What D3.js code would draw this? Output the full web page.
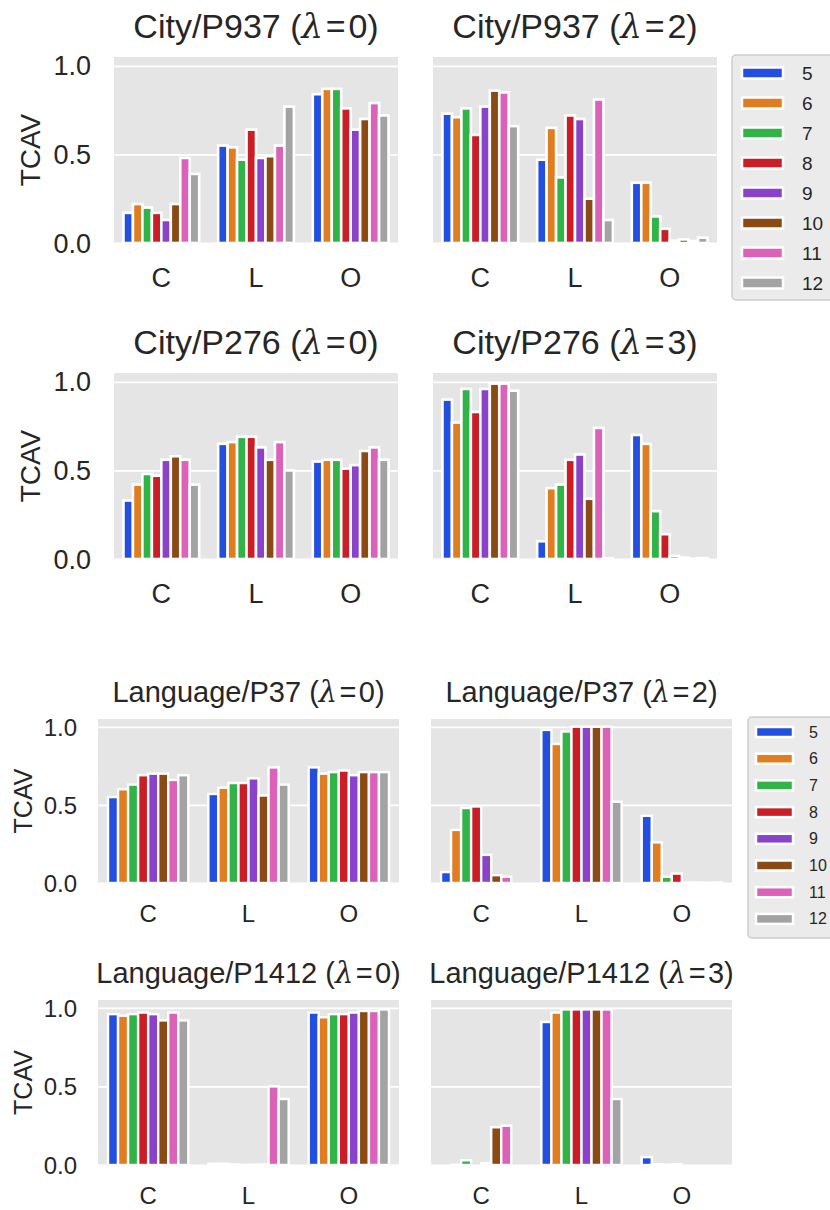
<!DOCTYPE html>
<html>
<head>
<meta charset="utf-8">
<script src="https://cdn.jsdelivr.net/npm/d3@7"></script>
<style>
  body { margin: 0; background: #ffffff; }
  svg text { font-family: "Liberation Sans", Arial, sans-serif; fill: #262626; }
</style>
</head>
<body>
<svg id="chart" width="830" height="1210"></svg>
<script>
/*
 * Data
 */

var CATEGORIES = ["C", "L", "O"];
var LAYERS = ["5", "6", "7", "8", "9", "10", "11", "12"];
var Y_TICKS = [0.0, 0.5, 1.0];

// TCAV per category (rows: C, L, O), per layer (5 .. 12)
var CITY_P937_L0 = [
  [0.17, 0.22, 0.20, 0.17, 0.13, 0.22, 0.48, 0.39],
  [0.55, 0.54, 0.47, 0.64, 0.48, 0.49, 0.55, 0.77],
  [0.84, 0.87, 0.87, 0.76, 0.64, 0.70, 0.79, 0.72]
];
var CITY_P937_L2 = [
  [0.73, 0.71, 0.76, 0.61, 0.77, 0.86, 0.85, 0.66],
  [0.47, 0.65, 0.37, 0.72, 0.70, 0.25, 0.81, 0.13],
  [0.34, 0.34, 0.15, 0.08, 0.013, 0.02, 0.011, 0.03]
];
var CITY_P276_L0 = [
  [0.33, 0.42, 0.48, 0.47, 0.56, 0.58, 0.56, 0.42],
  [0.65, 0.66, 0.69, 0.69, 0.63, 0.56, 0.66, 0.50],
  [0.55, 0.56, 0.56, 0.51, 0.53, 0.61, 0.63, 0.56]
];
var CITY_P276_L3 = [
  [0.90, 0.77, 0.96, 0.83, 0.96, 0.99, 0.99, 0.95],
  [0.10, 0.40, 0.42, 0.56, 0.59, 0.34, 0.74, 0.004],
  [0.70, 0.65, 0.27, 0.14, 0.017, 0.008, 0.002, 0.005]
];
var LANGUAGE_P37_L0 = [
  [0.55, 0.60, 0.63, 0.69, 0.70, 0.70, 0.66, 0.69],
  [0.57, 0.61, 0.64, 0.64, 0.67, 0.56, 0.74, 0.63],
  [0.74, 0.70, 0.71, 0.72, 0.69, 0.71, 0.71, 0.71]
];
var LANGUAGE_P37_L2 = [
  [0.07, 0.34, 0.48, 0.49, 0.18, 0.05, 0.04, 0.0],
  [0.98, 0.89, 0.97, 1.00, 1.00, 1.00, 1.00, 0.52],
  [0.43, 0.26, 0.04, 0.06, 0.003, 0.003, 0.002, 0.003]
];
var LANGUAGE_P1412_L0 = [
  [0.96, 0.95, 0.96, 0.97, 0.96, 0.92, 0.97, 0.92],
  [0.008, 0.008, 0.004, 0.001, 0.002, 0.003, 0.50, 0.42],
  [0.97, 0.94, 0.96, 0.96, 0.97, 0.98, 0.98, 0.99]
];
var LANGUAGE_P1412_L3 = [
  [0.0, 0.002, 0.03, 0.0, 0.011, 0.24, 0.25, 0.0],
  [0.91, 0.97, 0.99, 0.99, 0.99, 0.99, 0.99, 0.42],
  [0.05, 0.005, 0.002, 0.005, 0.0, 0.0, 0.0, 0.0]
];

/*
 * Styles and layout
 */

// seaborn "bright", desaturated as barplot does
var COLORS = ["#224fdf", "#df7d20", "#30b347", "#cb1d25",
              "#8a42cb", "#8b4a14", "#dc61b9", "#a3a3a3"];
var PANEL_BG = "#e5e5e5";
var Y_MAX = 1.05;

var TOP_STYLE = { title: 34, tick: 27, label: 28, pad: 23, xlab: 44, tgap: 19, ylabx: 30, stroke: 2.6 };
var BOT_STYLE = { title: 29, tick: 24, label: 25, pad: 21, xlab: 39, tgap: 17, ylabx: 23, stroke: 2.4 };

var PANELS = [
  { name: "City/P937", lam: "0", data: CITY_P937_L0, x: 114, y: 57, w: 284, h: 186, yaxis: true, st: TOP_STYLE },
  { name: "City/P937", lam: "2", data: CITY_P937_L2, x: 433, y: 57, w: 284, h: 186, yaxis: false, st: TOP_STYLE },
  { name: "City/P276", lam: "0", data: CITY_P276_L0, x: 114, y: 373, w: 284, h: 186, yaxis: true, st: TOP_STYLE },
  { name: "City/P276", lam: "3", data: CITY_P276_L3, x: 433, y: 373, w: 284, h: 186, yaxis: false, st: TOP_STYLE },
  { name: "Language/P37", lam: "0", data: LANGUAGE_P37_L0, x: 98, y: 719, w: 301, h: 164, yaxis: true, st: BOT_STYLE },
  { name: "Language/P37", lam: "2", data: LANGUAGE_P37_L2, x: 431, y: 719, w: 301, h: 164, yaxis: false, st: BOT_STYLE },
  { name: "Language/P1412", lam: "0", data: LANGUAGE_P1412_L0, x: 98, y: 1000, w: 301, h: 165, yaxis: true, st: BOT_STYLE },
  { name: "Language/P1412", lam: "3", data: LANGUAGE_P1412_L3, x: 431, y: 1000, w: 301, h: 165, yaxis: false, st: BOT_STYLE }
];

var LEGENDS = [
  { x: 732, y: 55, h: 245, first: 73, step: 30, swx: 742, sww: 41, swh: 11, tx: 802, fs: 19 },
  { x: 748, y: 717, h: 221, first: 732, step: 26.7, swx: 756, sww: 37, swh: 10, tx: 809, fs: 16 }
];

var SVG = d3.select("#chart");

/*
 * Drawing
 */

function draw_panel(p) {
  var st = p.st;
  var g = SVG.append("g").attr("class", "panel");

  var x = d3.scaleBand()
    .domain(CATEGORIES)
    .range([p.x, p.x + p.w])
    .paddingInner(0.2)
    .paddingOuter(0.1);
  var xi = d3.scaleBand()
    .domain(LAYERS)
    .range([0, x.bandwidth()]);
  var y = d3.scaleLinear()
    .domain([0, Y_MAX])
    .range([p.y + p.h, p.y]);

  // background
  g.append("rect")
    .attr("x", p.x).attr("y", p.y)
    .attr("width", p.w).attr("height", p.h)
    .attr("fill", PANEL_BG);

  // grid
  g.append("g")
    .attr("transform", "translate(" + p.x + ",0)")
    .call(d3.axisLeft(y).tickValues(Y_TICKS).tickSize(-p.w).tickFormat(""))
    .call(function (s) {
      s.select(".domain").remove();
      s.selectAll("line").attr("stroke", "#ffffff").attr("stroke-width", 1.8);
    });

  // bars
  var rows = [];
  p.data.forEach(function (vals, ci) {
    vals.forEach(function (v, li) {
      rows.push({ cat: CATEGORIES[ci], layer: LAYERS[li], li: li, v: v });
    });
  });
  g.append("g").selectAll("rect")
    .data(rows)
    .enter().append("rect")
      .attr("x", function (d) { return x(d.cat) + xi(d.layer); })
      .attr("y", function (d) { return y(d.v); })
      .attr("width", xi.bandwidth())
      .attr("height", function (d) { return y(0) - y(d.v); })
      .attr("fill", function (d) { return COLORS[d.li]; })
      .attr("stroke", "#ffffff")
      .attr("stroke-width", st.stroke);

  // x axis
  g.append("g")
    .attr("transform", "translate(0," + (p.y + p.h) + ")")
    .call(d3.axisBottom(x).tickSize(0).tickPadding(0))
    .call(function (s) {
      s.select(".domain").remove();
      s.selectAll("text")
        .attr("y", st.xlab)
        .attr("dy", null)
        .style("font-size", st.tick + "px")
        .style("font-family", null)
        .attr("fill", "#262626");
    });

  // y axis
  if (p.yaxis) {
    g.append("g")
      .attr("transform", "translate(" + p.x + ",0)")
      .call(d3.axisLeft(y).tickValues(Y_TICKS).tickFormat(d3.format(".1f"))
        .tickSize(0).tickPadding(st.pad))
      .call(function (s) {
        s.select(".domain").remove();
        s.selectAll("text")
          .attr("dy", null)
          .attr("dominant-baseline", "central")
          .style("font-size", st.tick + "px")
          .style("font-family", null)
          .attr("fill", "#262626");
      });

    g.append("text")
      .attr("transform", "translate(" + st.ylabx + "," + (p.y + p.h / 2) + ") rotate(-90)")
      .attr("text-anchor", "middle")
      .attr("dominant-baseline", "central")
      .style("font-size", st.label + "px")
      .text("TCAV");
  }

  // title with math lambda
  var t = g.append("text")
    .attr("x", p.x + p.w / 2)
    .attr("y", p.y - st.tgap)
    .attr("text-anchor", "middle")
    .style("font-size", st.title + "px");
  t.append("tspan").text(p.name + " (");
  t.append("tspan")
    .style("font-family", "'DejaVu Serif', serif")
    .style("font-style", "italic")
    .text("\u03bb");
  t.append("tspan").attr("dx", st.title * 0.08).text("=");
  t.append("tspan").attr("dx", st.title * 0.08).text(p.lam + ")");
}

function draw_legend(L) {
  var g = SVG.append("g").attr("class", "legend");
  g.append("rect")
    .attr("x", L.x).attr("y", L.y)
    .attr("width", 120).attr("height", L.h)
    .attr("rx", 4)
    .attr("fill", "#ebebeb")
    .attr("stroke", "#cdcdcd")
    .attr("stroke-width", 1.5);

  var items = g.selectAll("g.item")
    .data(LAYERS)
    .enter().append("g")
      .attr("class", "item")
      .attr("transform", function (d, i) { return "translate(0," + (L.first + i * L.step) + ")"; });

  items.append("rect")
    .attr("x", L.swx)
    .attr("y", -L.swh / 2)
    .attr("width", L.sww)
    .attr("height", L.swh)
    .attr("fill", function (d, i) { return COLORS[i]; })
    .attr("stroke", "#ffffff")
    .attr("stroke-width", 2.5);

  items.append("text")
    .attr("x", L.tx)
    .attr("dominant-baseline", "central")
    .style("font-size", L.fs + "px")
    .text(function (d) { return d; });
}

PANELS.forEach(draw_panel);
LEGENDS.forEach(draw_legend);
</script>
</body>
</html>
